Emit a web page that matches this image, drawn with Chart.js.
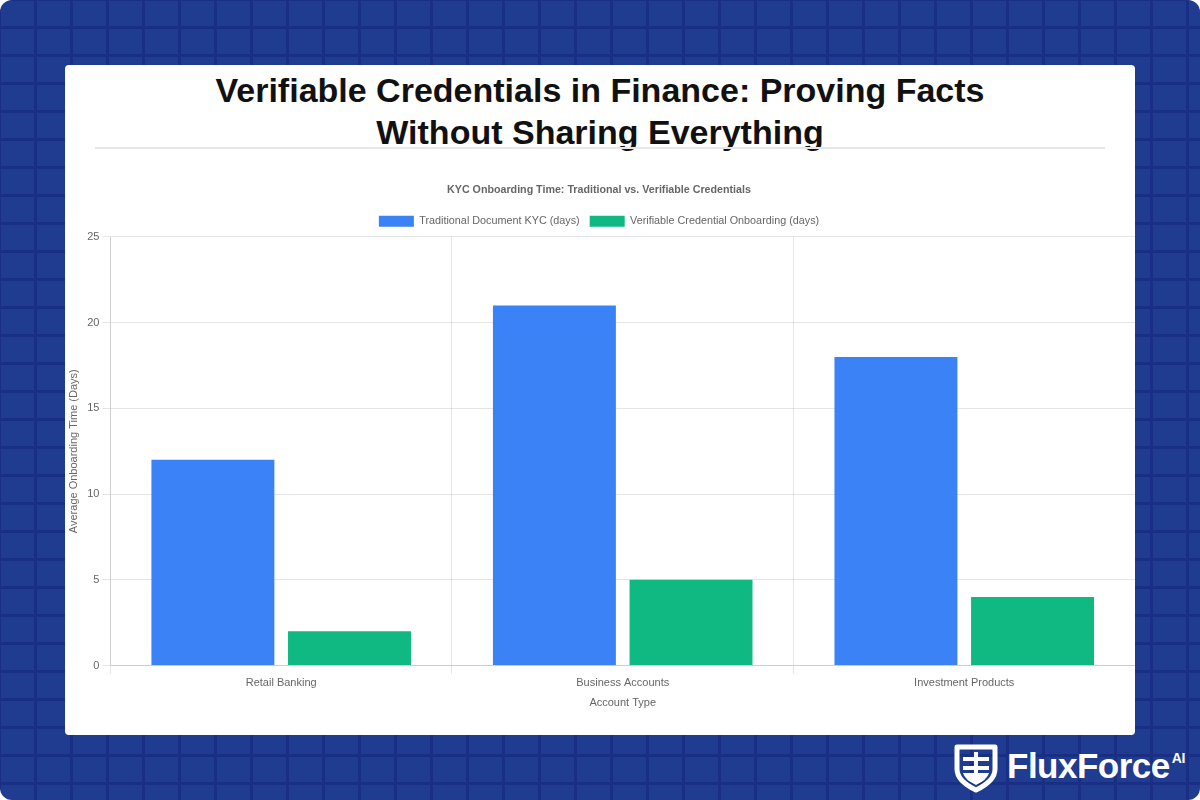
<!DOCTYPE html>
<html>
<head>
<meta charset="utf-8">
<script src="https://cdn.jsdelivr.net/npm/chart.js@4.4.1/dist/chart.umd.min.js"></script>
<style>
  html, body { margin: 0; padding: 0; background: #fff; }
  .bg {
    position: absolute; left: 0; top: 0; width: 1200px; height: 800px;
    border-radius: 12px; overflow: hidden;
    background-color: #1f3c91;
    background-image:
      linear-gradient(to right, #192f84 0 3px, transparent 3px),
      linear-gradient(to bottom, #192f84 0 3px, transparent 3px);
    background-size: 36px 28px;
    background-position: 34px 26px;
  }
  .card {
    position: absolute; left: 65px; top: 65px; width: 1070px; height: 670px;
    background: #fff; border-radius: 4px;
  }
  .title {
    position: absolute; left: 0; top: 69px; width: 1200px; text-align: center;
    font-family: "Liberation Sans", Arial, sans-serif; font-weight: bold;
    font-size: 34px; line-height: 42px; color: #111;
  }
  .rule {
    position: absolute; left: 95px; top: 147px; width: 1010px; height: 2px; background: #e5e7eb;
  }
  .wrap { position: absolute; left: 63px; top: 174px; width: 1072px; height: 540px; }
  .logo { position: absolute; left: 953px; top: 743px; }
  .brand {
    position: absolute; left: 1007px; top: 746px; color: #fff;
    font-family: "Liberation Sans", Arial, sans-serif; font-weight: bold; font-size: 35px; letter-spacing: -0.5px;
  }
  .brand sup { font-size: 14px; position: relative; top: -2px; margin-left: 2px; }
</style>
</head>
<body>
<div class="bg"></div>
<div class="card"></div>
<div class="title">Verifiable Credentials in Finance: Proving Facts<br>Without Sharing Everything</div>
<div class="rule"></div>
<div class="wrap"><canvas id="myChart"></canvas></div>
<svg class="logo" width="46" height="50" viewBox="0 0 46 50">
  <path d="M4 4 H42 V26 Q42 38 23 47 Q4 38 4 26 Z" fill="none" stroke="#fff" stroke-width="5" stroke-linejoin="round"/>
  <rect x="10" y="14" width="26" height="4" fill="#fff"/>
  <rect x="10" y="23" width="26" height="4" fill="#fff"/>
  <rect x="21" y="9" width="4" height="24" fill="#fff"/>
  <path d="M10 30 H36 Q34 37 23 42 Q12 37 10 30 Z" fill="#fff"/>
</svg>
<div class="brand">FluxForce<sup>AI</sup></div>
<script>
// значения
let accountTypes = ['Retail Banking', 'Business Accounts', 'Investment Products'];
let traditionalDays = [12, 21, 18];
let credentialDays = [2, 5, 4];

Chart.defaults.font.family = '"Liberation Sans", Arial, sans-serif';
Chart.defaults.color = '#666';

let ctx = document.getElementById('myChart').getContext('2d');

let data = {
    labels: accountTypes,
    datasets: [{
        label: 'Traditional Document KYC (days)',
        data: traditionalDays,
        backgroundColor: '#3b82f6'
    }, {
        label: 'Verifiable Credential Onboarding (days)',
        data: credentialDays,
        backgroundColor: '#10b981'
    }]
};

let myChart = new Chart(ctx, {
    type: 'bar',
    data: data,
    options: {
        responsive: true,
        maintainAspectRatio: false,
        animation: false,
        plugins: {
            title: {
                display: true,
                text: 'KYC Onboarding Time: Traditional vs. Verifiable Credentials',
                font: { size: 10.7, weight: 'bold' },
                padding: { top: 10, bottom: 9 }
            },
            legend: {
                labels: { boxWidth: 35, boxHeight: 11, font: { size: 10.8 } }
            }
        },
        scales: {
            x: {
                title: { display: true, text: 'Account Type', font: { size: 11 } },
                ticks: { font: { size: 11 } }
            },
            y: {
                beginAtZero: true,
                max: 25,
                ticks: { stepSize: 5, font: { size: 11 } },
                title: { display: true, text: 'Average Onboarding Time (Days)', font: { size: 11 } }
            }
        }
    }
});
</script>
</body>
</html>
